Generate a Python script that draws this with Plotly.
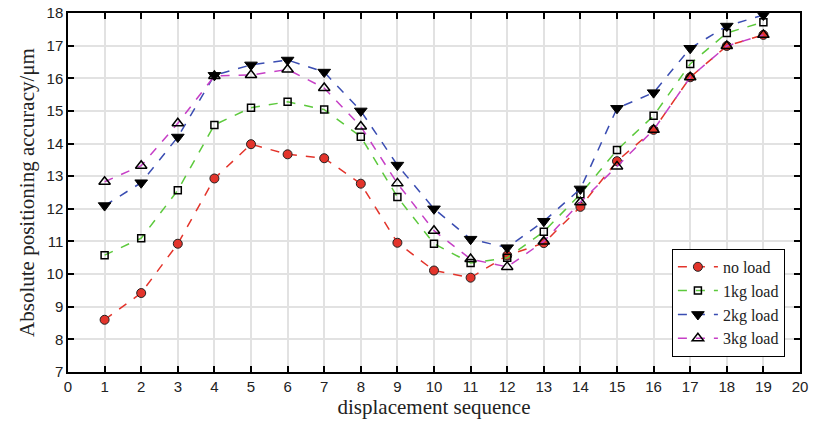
import plotly.graph_objects as go

seq = list(range(1, 20))
no_load = [8.6, 9.42, 10.93, 12.93, 13.98, 13.67, 13.55, 12.77, 10.96, 10.11, 9.89, 10.57, 10.95, 12.06, 13.46, 14.42, 16.03, 16.99, 17.33]
load_1kg = [10.58, 11.1, 12.57, 14.57, 15.1, 15.28, 15.04, 14.21, 12.36, 10.93, 10.34, 10.5, 11.3, 12.45, 13.8, 14.85, 16.44, 17.39, 17.72]
load_2kg = [12.1, 12.8, 14.2, 16.09, 16.41, 16.56, 16.19, 15.0, 13.34, 12.0, 11.07, 10.81, 11.62, 12.61, 15.08, 15.56, 16.92, 17.6, 17.94]
load_3kg = [12.83, 13.32, 14.62, 16.07, 16.1, 16.27, 15.7, 14.52, 12.78, 11.33, 10.46, 10.22, 11.0, 12.2, 13.3, 14.42, 16.03, 16.99, 17.33]

names = ["no load", "1kg load", "2kg load", "3kg load"]
series = [no_load, load_1kg, load_2kg, load_3kg]
colors = ["#e3342b", "#5cc93c", "#3a4db2", "#c63fc6"]
markers = [
    dict(symbol="circle", size=9, color="#e3342b", line=dict(color="#222", width=1)),
    dict(symbol="square-open", size=7, color="black", line=dict(color="black", width=1.5)),
    dict(symbol="triangle-down", size=11, color="black", line=dict(color="black", width=1)),
    dict(symbol="triangle-up-open", size=10, color="black", line=dict(color="black", width=1.5)),
]

fig = go.Figure()
for n, s, c, m in zip(names, series, colors, markers):
    fig.add_trace(go.Scatter(x=seq, y=s, name=n, mode="lines+markers",
                             line=dict(color=c, width=1.5, dash="dash"), marker=m))

axis_common = dict(showline=True, linecolor="black", linewidth=1.5, mirror="ticks",
                   ticks="inside", ticklen=6, tickwidth=1.5, tickcolor="black",
                   showgrid=True, gridcolor="#e2e2e2", gridwidth=1.5, zeroline=False,
                   automargin=False,
                   tickfont=dict(family="Liberation Sans Narrow, Arial Narrow, sans-serif", size=15, color="#222"))

fig.update_layout(
    width=816, height=422,
    margin=dict(l=68, r=16, t=13, b=50),
    plot_bgcolor="white", paper_bgcolor="white",
    xaxis=dict(range=[0, 20], dtick=1, tick0=0,
               title=dict(text="displacement sequence", standoff=4,
                          font=dict(family="Liberation Serif, Times New Roman, serif", size=21, color="#222")),
               **axis_common),
    yaxis=dict(range=[7, 18], dtick=1, tick0=7,
               title=dict(text="Absolute positioning accuracy/μm", standoff=6,
                          font=dict(family="Liberation Serif, Times New Roman, serif", size=21, color="#222")),
               **axis_common),
    legend=dict(x=0.825, y=0.042, xanchor="left", yanchor="bottom",
                bgcolor="white", bordercolor="black", borderwidth=1,
                font=dict(family="Liberation Serif, Times New Roman, serif", size=16, color="#222"),
                tracegroupgap=0, itemwidth=40),
    showlegend=True,
)

fig.write_html("out.html")
